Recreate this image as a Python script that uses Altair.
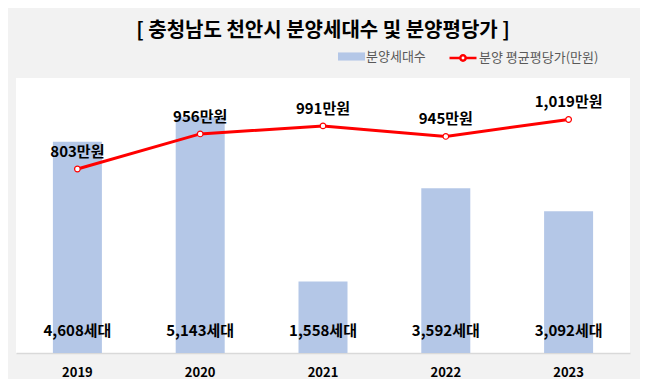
import altair as alt
import pandas as pd

years = ["2019", "2020", "2021", "2022", "2023"]
units = [4608, 5143, 1558, 3592, 3092]
prices = [803, 956, 991, 945, 1019]

FONT = "Noto Sans CJK KR"

df = pd.DataFrame({
    "year": years,
    "units": units,
    "price": prices,
})
df["s1"] = "분양세대수"
df["s2"] = "분양 평균평당가(만원)"
df["unit_label"] = [f"{u:,}세대" for u in units]
df["price_label"] = [f"{p:,}만원" for p in prices]

x = alt.X("year:N", sort=years,
          scale=alt.Scale(paddingInner=0.6, paddingOuter=0.3),
          axis=alt.Axis(title=None, labelAngle=0, ticks=False, domain=True,
                        domainColor="#d9d9d9", domainWidth=1.5,
                        labelFont=FONT, labelFontSize=13, labelFontWeight="bold",
                        labelColor="#000000", labelPadding=13, grid=False))

base = alt.Chart(df)

bars = base.mark_bar(size=49).encode(
    x=x,
    y=alt.Y("units:Q", scale=alt.Scale(domain=[0, 6000]), axis=None),
    color=alt.Color("s1:N", scale=alt.Scale(range=["#b4c7e7"]),
                    legend=alt.Legend(title=None, orient="none", legendX=322, legendY=-35,
                                      symbolType="M-1,-0.3L1,-0.3L1,0.3L-1,0.3Z",
                                      symbolSize=729, symbolStrokeWidth=0,
                                      labelFont=FONT, labelFontSize=13, labelColor="#595959",
                                      labelOffset=1)),
)

bar_text = base.mark_text(font=FONT, fontSize=15, fontWeight="bold", color="#000000").encode(
    x=x,
    y=alt.value(253),
    text="unit_label:N",
)

line = base.mark_line(color="#ff0000", strokeWidth=3,
                      point=alt.OverlayMarkDef(fill="white", filled=True, stroke="#ff0000",
                                               strokeWidth=1.2, size=32, opacity=1)).encode(
    x=x,
    y=alt.Y("price:Q", scale=alt.Scale(domain=[0, 1200]), axis=None),
    stroke=alt.Stroke("s2:N", scale=alt.Scale(range=["#ff0000"]),
                      legend=alt.Legend(title=None, orient="none", legendX=432, legendY=-35,
                                        symbolType="M-1,0L-0.22,0M0.22,0L1,0M0.2,0A0.2,0.2 0 1,1 -0.2,0A0.2,0.2 0 1,1 0.2,0",
                                        symbolSize=729, symbolStrokeWidth=2.5,
                                        symbolFillColor="white",
                                        labelFont=FONT, labelFontSize=13, labelColor="#595959",
                                        labelOffset=1)),
)

line_text = base.mark_text(font=FONT, fontSize=15, fontWeight="bold", color="#000000", dy=-17).encode(
    x=x,
    y=alt.Y("price:Q", scale=alt.Scale(domain=[0, 1200]), axis=None),
    text="price_label:N",
)

bar_layer = alt.layer(bars, bar_text)
line_layer = alt.layer(line, line_text)

chart = alt.layer(bar_layer, line_layer).resolve_scale(
    y="independent"
).properties(
    width=614,
    height=275,
    background="#f2f2f2",
    padding={"left": 8, "top": 70, "right": 10, "bottom": 26},
    autosize=alt.AutoSizeParams(type="none"),
    title=alt.TitleParams("[ 충청남도 천안시 분양세대수 및 분양평당가 ]", font=FONT, fontSize=20,
                          fontWeight="bold", color="#000000", anchor="middle", offset=2),
).configure_view(
    fill="white",
    stroke=None,
)

chart.save("out.html", embed_options={"renderer": "svg", "actions": False})
